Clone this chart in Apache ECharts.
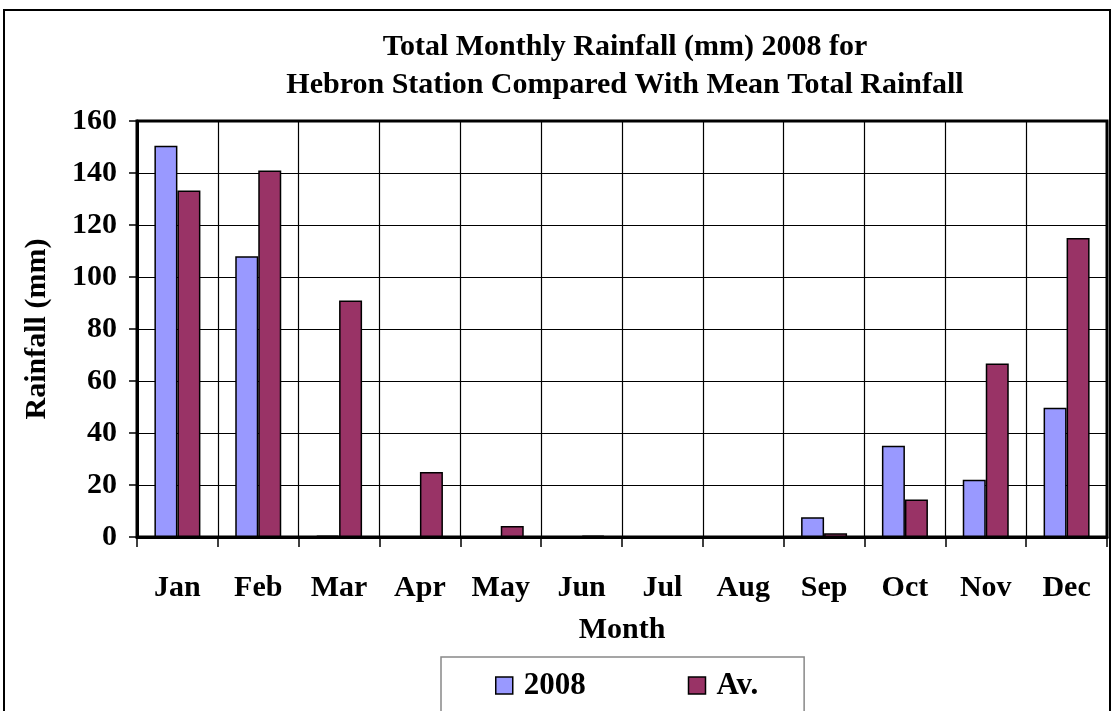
<!DOCTYPE html>
<html>
<head>
<meta charset="utf-8">
<script src="https://cdn.jsdelivr.net/npm/echarts@6/dist/echarts.min.js"></script>
<style>
  html, body { margin: 0; padding: 0; background: #fff; }
  #chart { width: 1114px; height: 711px; }
</style>
</head>
<body>
<div id="chart"></div>
<script>
// Monthly rainfall at Hebron station (mm)
const months = ['Jan', 'Feb', 'Mar', 'Apr', 'May', 'Jun', 'Jul', 'Aug', 'Sep', 'Oct', 'Nov', 'Dec'];
const rain2008 = [150.5, 108.0, 0.5, 0, 0, 0, 0, 0, 7.6, 35.1, 22.0, 49.7];
const rainMean = [133.3, 141.0, 91.0, 25.0, 4.2, 0.5, 0, 0, 1.4, 14.4, 66.7, 115.0];
const yTicks = { min: 0, max: 160, step: 20 };

const FONT = '"Liberation Serif", "Times New Roman", serif';

const chart = echarts.init(document.getElementById('chart'), null, { renderer: 'canvas' });

chart.setOption({
  backgroundColor: '#ffffff',
  animation: false,
  title: {
    text: 'Total Monthly Rainfall (mm) 2008 for\nHebron Station Compared With Mean Total Rainfall',
    left: 620,
    textAlign: 'center',
    top: 23,
    textStyle: {
      fontFamily: FONT,
      fontWeight: 'bold',
      fontSize: 30,
      lineHeight: 38,
      color: '#000'
    }
  },
  graphic: [{
    type: 'rect',
    shape: { x: 4, y: 10, width: 1106, height: 760 },
    style: { fill: 'none', stroke: '#000', lineWidth: 2 },
    z: 100,
    silent: true
  }],
  legend: {
    data: ['2008', 'Av.'],
    left: 441,
    top: 657,
    orient: 'horizontal',
    padding: [13, 46, 40, 54],
    itemGap: 102,
    itemWidth: 17,
    itemHeight: 17,
    icon: 'rect',
    borderColor: '#888',
    borderWidth: 1.5,
    backgroundColor: '#fff',
    textStyle: {
      fontFamily: FONT,
      fontWeight: 'bold',
      fontSize: 31,
      color: '#000',
      padding: [0, 0, 0, 6]
    },
    itemStyle: { borderColor: '#000', borderWidth: 1.5 }
  },
  grid: {
    left: 137,
    right: 7,
    top: 121,
    bottom: 174,
    show: true,
    borderColor: '#000',
    borderWidth: 3,
    containLabel: false
  },
  xAxis: {
    type: 'category',
    data: months,
    boundaryGap: true,
    name: 'Month',
    nameLocation: 'middle',
    nameGap: 78,
    nameTextStyle: {
      fontFamily: FONT,
      fontWeight: 'bold',
      fontSize: 30,
      color: '#000',
      verticalAlign: 'top'
    },
    axisLine: { show: true, lineStyle: { color: '#000', width: 3 } },
    axisTick: { show: true, alignWithLabel: false, length: 10, lineStyle: { color: '#000', width: 1.5 } },
    splitLine: { show: true, interval: 0, lineStyle: { color: '#000', width: 1.2 } },
    axisLabel: {
      interval: 0,
      margin: 36,
      fontFamily: FONT,
      fontWeight: 'bold',
      fontSize: 30,
      color: '#000'
    }
  },
  yAxis: {
    type: 'value',
    min: yTicks.min,
    max: yTicks.max,
    interval: yTicks.step,
    name: 'Rainfall (mm)',
    nameLocation: 'middle',
    nameGap: 85,
    nameRotate: 90,
    nameTextStyle: {
      fontFamily: FONT,
      fontWeight: 'bold',
      fontSize: 30,
      color: '#000'
    },
    axisLine: { show: true, lineStyle: { color: '#000', width: 3 } },
    axisTick: { show: true, length: 8, lineStyle: { color: '#000', width: 1.5 } },
    splitLine: { show: true, lineStyle: { color: '#000', width: 1.2 } },
    axisLabel: {
      margin: 20,
      fontFamily: FONT,
      fontWeight: 'bold',
      fontSize: 30,
      color: '#000'
    }
  },
  series: [
    {
      name: '2008',
      type: 'bar',
      data: rain2008,
      barWidth: 23,
      barGap: '0%',
      itemStyle: { color: '#9999FF', borderColor: '#000', borderWidth: 1.5 }
    },
    {
      name: 'Av.',
      type: 'bar',
      data: rainMean,
      barWidth: 23,
      barGap: '0%',
      itemStyle: { color: '#993366', borderColor: '#000', borderWidth: 1.5 }
    }
  ]
});
</script>
</body>
</html>
